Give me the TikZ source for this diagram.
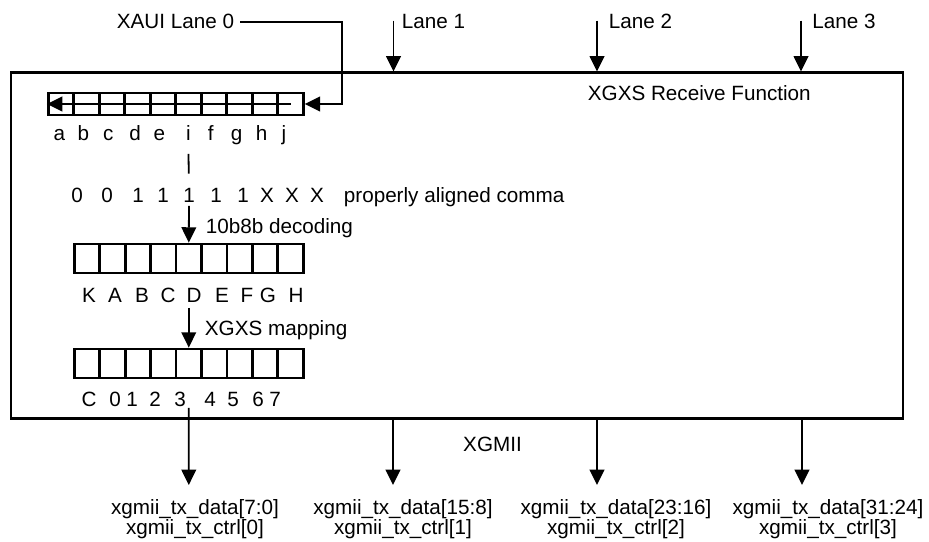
\documentclass[tikz,border=0pt]{standalone}
\usepackage{fontspec}
\setmainfont{Liberation Sans}
\usetikzlibrary{arrows.meta}

\tikzset{every picture/.style={line width=1.35pt}}
\tikzset{
  txt/.style={font=\fontsize{15.5}{15}\selectfont, inner sep=0pt},
  cell/.style={draw, line width=2.1pt, inner sep=0pt, minimum width=19.1pt, minimum height=21.75pt},
  arr/.style={-{Triangle[length=11.5pt,width=11pt]}},
}

\begin{document}
\begin{tikzpicture}[x=0.75pt,y=0.75pt,yscale=-1,xscale=1]
	\useasboundingbox (0,0) rectangle (929,542);

	%Shape: Rectangle (receive function)
	\node[draw, line width=1.6pt, inner sep=0pt, minimum width=669pt, minimum height=259.5pt] (rx) at (457,245.5) {};

	%Shape: Cells (10 bit code group)
	\foreach \i in {0,...,9}
		\node[cell, minimum height=16.5pt] (a\i) at (61.05+25.5*\i,104) {};
	%Shape: Cells (decoded octet)
	\foreach \i in {0,...,8}
		\node[cell] (b\i) at (87+25.44*\i,258.5) {};
	%Shape: Cells (mapped octet)
	\foreach \i in {0,...,8}
		\node[cell] (c\i) at (87+25.44*\i,363.5) {};

	% Text Node
	\node[txt, anchor=base east] (xaui) at (235,29) {XAUI Lane 0};
	\node[txt, anchor=base west] (lane1) at (401,29) {Lane 1};
	\node[txt, anchor=base west] (lane2) at (608,29) {Lane 2};
	\node[txt, anchor=base west] (lane3) at (811.5,29) {Lane 3};
	\node[txt, anchor=base west] (rxf) at (587,100.5) {XGXS Receive Function};
	\foreach \l/\x [count=\i] in {a/59.3,b/83.3,c/108.3,d/135,e/159.3,i/188.3,f/210.7,g/236.7,h/261.7,j/284}
		\node[txt, anchor=base] (l\i) at (\x,141) {\l};
	\foreach \l/\x [count=\i] in {0/77,0/107,1/138,1/163,1/189,1/216,1/243,X/267,X/292,X/317}
		\node[txt, anchor=base] (d\i) at (\x,202.7) {\l};
	\node[txt, anchor=base west] (comma) at (343,202.7) {properly aligned comma};
	\node[txt, anchor=base west] (dec) at (205,233) {10b8b decoding};
	\foreach \l/\x [count=\i] in {K/89,A/115,B/142,C/168,D/194,E/222,F/247,G/268,H/296}
		\node[txt, anchor=base] (k\i) at (\x,302.5) {\l};
	\node[txt, anchor=base west] (map) at (204,335) {XGXS mapping};
	\foreach \l/\x [count=\i] in {C/89,0/115,1/132,2/155,3/180,4/210,5/233,6/258,7/275}
		\node[txt, anchor=base] (n\i) at (\x,406.7) {\l};
	\node[txt, anchor=base] (xgmii) at (492.5,451.7) {XGMII};
	\node[txt, align=center, anchor=north] (out1) at (195,499) {xgmii\_tx\_data[7:0]\\xgmii\_tx\_ctrl[0]};
	\node[txt, align=center, anchor=north] (out2) at (403,499) {xgmii\_tx\_data[15:8]\\xgmii\_tx\_ctrl[1]};
	\node[txt, align=center, anchor=north] (out3) at (616,499) {xgmii\_tx\_data[23:16]\\xgmii\_tx\_ctrl[2]};
	\node[txt, align=center, anchor=north] (out4) at (828,499) {xgmii\_tx\_data[31:24]\\xgmii\_tx\_ctrl[3]};

	% Coordinates
	\coordinate (bend) at (342,60);
	\coordinate (ln1) at (393.5,20.7);
	\coordinate (ln2) at (597,20.7);
	\coordinate (ln3) at (801,20.7);
	\coordinate (o1) at (188.8,485);
	\coordinate (o2) at (393,485);
	\coordinate (o3) at (597,485);
	\coordinate (o4) at (802,485);

	%Straight Lines (XAUI lane 0 input)
	\draw[arr] ([xshift=3.75pt]xaui.east) -| (bend) |- (a9.east);
	\draw[arr] (a9.center) -- (a0.west);
	%Straight Lines (lanes 1 to 3)
	\draw[arr] (ln1) -- (ln1 |- rx.north);
	\draw[arr] (ln2) -- (ln2 |- rx.north);
	\draw[arr] (ln3) -- (ln3 |- rx.north);
	%Straight Lines (comma alignment)
	\draw[shorten <=9pt, shorten >=10.4pt] (l6.south) -- (d5.north);
	\draw[arr, shorten <=1.7pt] (d5.south) -- (b4.north);
	\draw[arr, shorten <=3.4pt] (b4 |- k5.south) -- (c4.north);
	%Straight Lines (XGMII outputs)
	\draw[arr] (c4 |- n5.south) -- (o1);
	\draw[arr] (o2 |- rx.south) -- (o2);
	\draw[arr] (o3 |- rx.south) -- (o3);
	\draw[arr] (o4 |- rx.south) -- (o4);

\end{tikzpicture}
\end{document}
